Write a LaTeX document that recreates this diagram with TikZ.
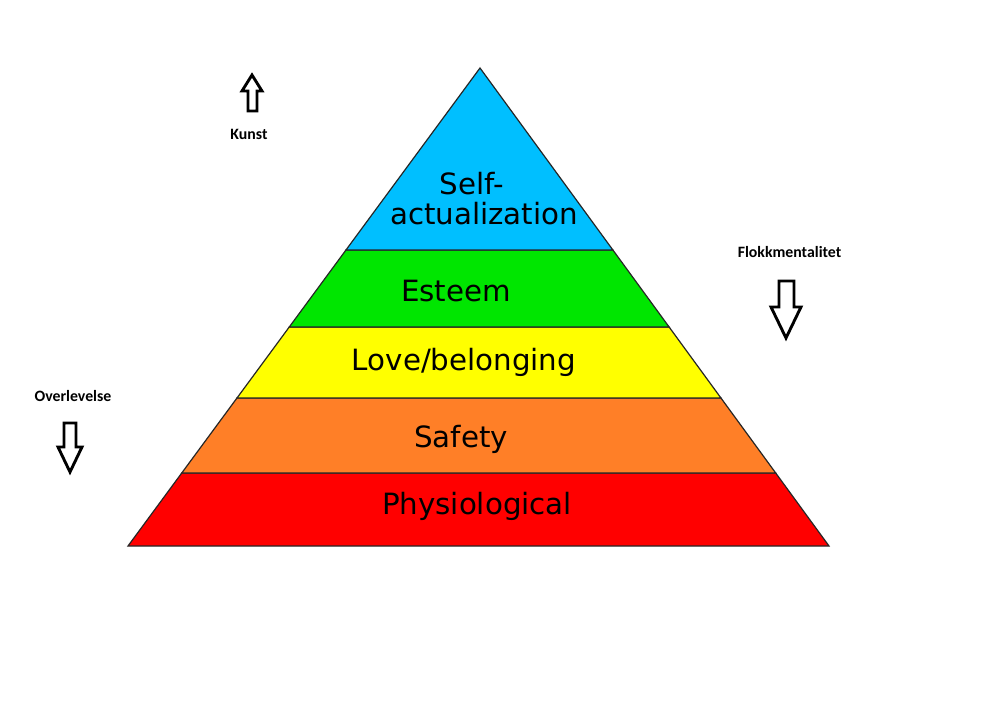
\documentclass[tikz,border=0pt]{standalone}
\usepackage{fontspec}
\setmainfont{DejaVu Sans}
\newfontfamily\lblfont{Carlito}
\usetikzlibrary{calc}
\definecolor{cSelf}{RGB}{0,191,255}
\definecolor{cEst}{RGB}{0,230,0}
\definecolor{cLove}{RGB}{255,255,0}
\definecolor{cSafe}{RGB}{255,127,39}
\definecolor{cPhys}{RGB}{255,0,0}
\tikzset{
  band/.style={draw=black!85, line width=1.2pt, line join=miter},
  bandtext/.style={anchor=base, inner sep=0pt, font=\fontsize{29.3}{32}\selectfont},
  sidelabel/.style={anchor=base, inner sep=0pt, font=\lblfont\bfseries\fontsize{15.8}{17}\selectfont},
  blockarrow/.style={draw=black, line width=2.9pt, fill=white, line join=miter}
}
\begin{document}
\begin{tikzpicture}[x=1pt,y=-1pt]
\useasboundingbox (0,0) rectangle (994,720);
\fill[white] (0,0) rectangle (994,720);
\coordinate (A) at (480,68);
\coordinate (L) at (128,546);
\coordinate (R) at (829,546);
\coordinate (L1) at ($(A)!0.3808!(L)$);
\coordinate (R1) at ($(A)!0.3808!(R)$);
\coordinate (L2) at ($(A)!0.5418!(L)$);
\coordinate (R2) at ($(A)!0.5418!(R)$);
\coordinate (L3) at ($(A)!0.6904!(L)$);
\coordinate (R3) at ($(A)!0.6904!(R)$);
\coordinate (L4) at ($(A)!0.8473!(L)$);
\coordinate (R4) at ($(A)!0.8473!(R)$);
% bands
\filldraw[band, fill=cPhys] (L4) -- (R4) -- (R) -- (L) -- cycle;
\filldraw[band, fill=cSafe] (L3) -- (R3) -- (R4) -- (L4) -- cycle;
\filldraw[band, fill=cLove] (L2) -- (R2) -- (R3) -- (L3) -- cycle;
\filldraw[band, fill=cEst] (L1) -- (R1) -- (R2) -- (L2) -- cycle;
\filldraw[band, fill=cSelf] (A) -- (R1) -- (L1) -- cycle;
% texts
\node[bandtext] (self1) at (472,194) {Self-};
\node[bandtext] (self2) at (484,224) {actualization};
\node[bandtext] (est) at (456,301) {Esteem};
\node[bandtext] (love) at (464,370) {Love/belonging};
\node[bandtext] (safe) at (461,447) {Safety};
\node[bandtext] (phys) at (477,514) {Physiological};
% side labels
\node[sidelabel] (kunst) at (249,139) {Kunst};
\node[sidelabel] (flokk) at (789.5,257) {Flokkmentalitet};
\node[sidelabel] (over) at (73,401) {Overlevelse};
% arrows
\draw[blockarrow] (252,75) -- (262,91) -- (257,91) -- (257,111) -- (248,111) -- (248,91) -- (242,91) -- cycle;
\draw[blockarrow] (786,338) -- (801,307) -- (794,307) -- (794,281) -- (779,281) -- (779,307) -- (771,307) -- cycle;
\draw[blockarrow] (70,472) -- (82,447) -- (76,447) -- (76,423) -- (64,423) -- (64,447) -- (58,447) -- cycle;
\end{tikzpicture}
\end{document}
